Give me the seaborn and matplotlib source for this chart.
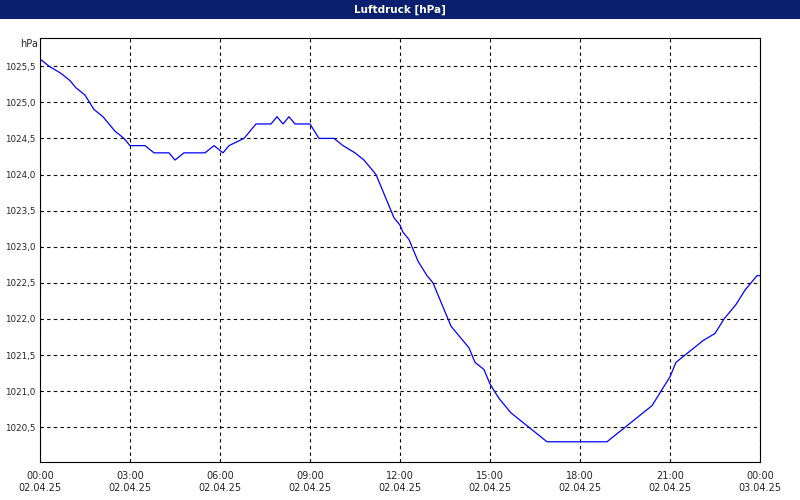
import matplotlib
matplotlib.use("Agg")
import matplotlib.pyplot as plt
import matplotlib.patches as mpatches
import seaborn as sns
import pandas as pd

# Messwerte (Stunden ab 02.04.25 00:00, Luftdruck in hPa)
hours = [0.0, 0.3, 0.7, 1.0, 1.2, 1.5, 1.8, 2.1, 2.5, 2.8, 3.0, 3.5, 3.8, 4.3, 4.5, 4.8,
         5.5, 5.8, 6.1, 6.3, 6.8, 7.2, 7.7, 7.9, 8.1, 8.3, 8.5, 9.0, 9.3, 9.8, 10.1, 10.5,
         10.8, 11.2, 11.5, 11.8, 12.0, 12.1, 12.3, 12.6, 12.9, 13.1, 13.4, 13.7, 14.1, 14.3,
         14.5, 14.8, 15.0, 15.3, 15.7, 16.0, 16.3, 16.6, 16.9, 18.9, 19.2, 19.5, 19.8, 20.1,
         20.4, 20.7, 21.0, 21.2, 21.5, 21.8, 22.1, 22.5, 22.8, 23.2, 23.5, 23.7, 23.9, 24.0]
pressure = [1025.6, 1025.5, 1025.4, 1025.3, 1025.2, 1025.1, 1024.9, 1024.8, 1024.6, 1024.5,
            1024.4, 1024.4, 1024.3, 1024.3, 1024.2, 1024.3, 1024.3, 1024.4, 1024.3, 1024.4,
            1024.5, 1024.7, 1024.7, 1024.8, 1024.7, 1024.8, 1024.7, 1024.7, 1024.5, 1024.5,
            1024.4, 1024.3, 1024.2, 1024.0, 1023.7, 1023.4, 1023.3, 1023.2, 1023.1, 1022.8,
            1022.6, 1022.5, 1022.2, 1021.9, 1021.7, 1021.6, 1021.4, 1021.3, 1021.1, 1020.9,
            1020.7, 1020.6, 1020.5, 1020.4, 1020.3, 1020.3, 1020.4, 1020.5, 1020.6, 1020.7,
            1020.8, 1021.0, 1021.2, 1021.4, 1021.5, 1021.6, 1021.7, 1021.8, 1022.0, 1022.2,
            1022.4, 1022.5, 1022.6, 1022.6]
tick_hours = [0, 3, 6, 9, 12, 15, 18, 21, 24]
tick_labels = ["00:00\n02.04.25", "03:00\n02.04.25", "06:00\n02.04.25", "09:00\n02.04.25",
               "12:00\n02.04.25", "15:00\n02.04.25", "18:00\n02.04.25", "21:00\n02.04.25",
               "00:00\n03.04.25"]
y_ticks = [1020.5, 1021.0, 1021.5, 1022.0, 1022.5, 1023.0, 1023.5, 1024.0, 1024.5, 1025.0, 1025.5]

df = pd.DataFrame({"h": hours, "p": pressure})

sns.set_style("white")
plt.rcParams["font.family"] = ["DejaVu Sans"]

fig = plt.figure(figsize=(8, 5), dpi=100)
fig.patch.set_facecolor("white")
ax = fig.add_axes([0.05, 0.076, 0.90, 0.848])

sns.lineplot(data=df, x="h", y="p", color="blue", linewidth=0.9, ax=ax)

ax.set_xlim(0, 24)
ax.set_ylim(1020.02, 1025.89)
ax.set_xticks(tick_hours)
ax.set_xticklabels(tick_labels, fontsize=7)
ax.set_yticks(y_ticks)
ax.set_yticklabels([f"{v:.1f}".replace(".", ",") for v in y_ticks], fontsize=6.3)
ax.tick_params(axis="x", length=3, color="black", direction="out")
ax.tick_params(axis="y", length=2, pad=1.5, color="black", direction="out")
ax.grid(True, color="black", linestyle=(0, (3, 3)), linewidth=0.8)
ax.set_xlabel("")
ax.set_ylabel("")
for s in ax.spines.values():
    s.set_color("black")
    s.set_linewidth(0.8)

# Titelleiste
fig.patches.append(mpatches.Rectangle((0, 0.962), 1, 0.038, transform=fig.transFigure,
                                      facecolor="#0a1f6e", edgecolor="none"))
fig.text(0.5, 0.981, "Luftdruck [hPa]", color="white", fontsize=7.5, fontweight="bold",
         ha="center", va="center")
fig.text(0.025, 0.912, "hPa", fontsize=7, ha="left", va="center")

fig.savefig("out.png", dpi=100)
